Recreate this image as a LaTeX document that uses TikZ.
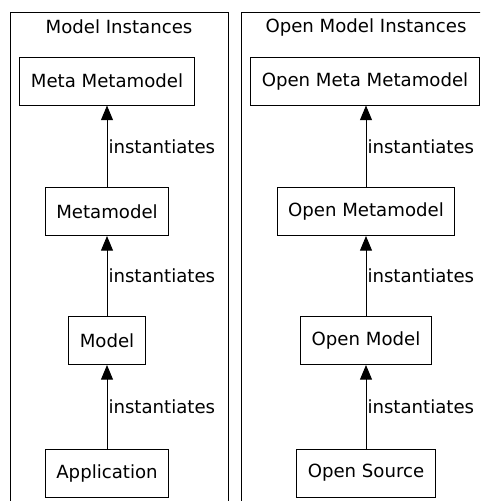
\documentclass[tikz,border=0pt]{standalone}
\usepackage{fontspec}
\setmainfont{DejaVu Sans}
\usetikzlibrary{arrows.meta}

\tikzset{every picture/.style={line width=0.75pt}}
\tikzset{
  level/.style={draw, inner xsep=8.25pt, minimum height=36pt, font=\fontsize{13.6}{16}\selectfont},
  inst/.style={-{Triangle[width=9pt,length=11pt]}},
  instlabel/.style={midway, right, inner sep=0.75pt, font=\fontsize{13.6}{16}\selectfont},
  paneltitle/.style={inner sep=0.75pt, font=\fontsize{13.6}{16}\selectfont}
}

\begin{document}
\begin{tikzpicture}[x=0.75pt,y=0.75pt,yscale=-1,xscale=1]
\useasboundingbox (0,0) rectangle (480,501);
\clip (0,0) rectangle (480,501);

%Shape: Rectangle [panels]
\draw (10,12) rectangle (228,520);
\draw (241,12) rectangle (500,520);

% Text Node
\node [paneltitle] (tleft) at (119,27) {Model Instances};
\node [paneltitle] (tright) at (366,27) {Open Model Instances};

% Model instances
\node [level] (mmm) at (107,81) {Meta Metamodel};
\node [level] (mm) at (107,211.5) {Metamodel};
\node [level] (m) at (107,340.5) {Model};
\node [level] (app) at (107,473) {Application};

% Open model instances
\node [level] (ommm) at (365,81) {Open Meta Metamodel};
\node [level] (omm) at (366,211.5) {Open Metamodel};
\node [level] (om) at (366,340.5) {Open Model};
\node [level] (os) at (366,473) {Open Source};

%Straight Lines
\draw [inst] (app) -- (m) node [instlabel] {instantiates};
\draw [inst] (m) -- (mm) node [instlabel] {instantiates};
\draw [inst] (mm) -- (mmm) node [instlabel] {instantiates};
\draw [inst] (os.north -| 366,0) -- (om.south -| 366,0) node [instlabel] {instantiates};
\draw [inst] (om) -- (omm) node [instlabel] {instantiates};
\draw [inst] (omm.north -| 366,0) -- (ommm.south -| 366,0) node [instlabel] {instantiates};

\end{tikzpicture}
\end{document}
